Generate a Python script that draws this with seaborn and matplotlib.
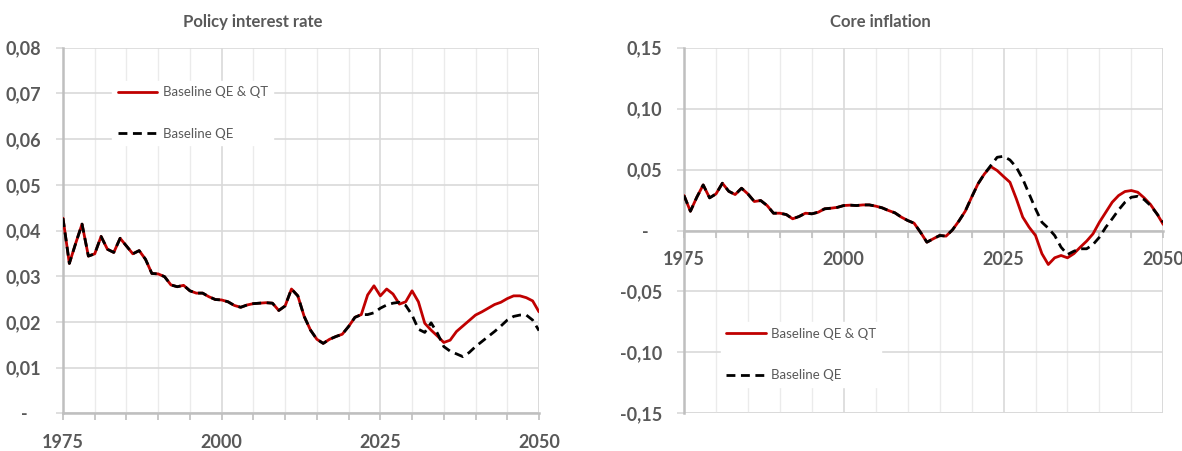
import numpy as np
import pandas as pd
import matplotlib
matplotlib.use("Agg")
import matplotlib.pyplot as plt
from matplotlib.ticker import FuncFormatter, MultipleLocator
import seaborn as sns

# ---- data -------------------------------------------------------------
years = list(range(1975, 2051))

rate_qe_qt = [
    0.0427, 0.0328, 0.0372, 0.0414, 0.0344, 0.0349, 0.0387, 0.0359, 0.0352, 0.0383,
    0.0366, 0.0349, 0.0356, 0.0337, 0.0306, 0.0305, 0.0299, 0.0281, 0.0277, 0.0280,
    0.0268, 0.0263, 0.0263, 0.0255, 0.0249, 0.0248, 0.0244, 0.0236, 0.0232, 0.0237,
    0.0240, 0.0241, 0.0242, 0.0241, 0.0225, 0.0235, 0.0272, 0.0257, 0.0212, 0.0182,
    0.0162, 0.0153, 0.0162, 0.0168, 0.0173, 0.0190, 0.0210, 0.0216,
    0.0259, 0.0279, 0.0257, 0.0272, 0.0261, 0.0239, 0.0244, 0.0268, 0.0244, 0.0197,
    0.0182, 0.0169, 0.0155, 0.0160, 0.0179, 0.0191, 0.0203, 0.0215, 0.0222, 0.0230,
    0.0238, 0.0243, 0.0251, 0.0257, 0.0257, 0.0253, 0.0246, 0.0222,
]
rate_qe = [
    0.0427, 0.0328, 0.0372, 0.0414, 0.0344, 0.0349, 0.0387, 0.0359, 0.0352, 0.0383,
    0.0366, 0.0349, 0.0356, 0.0337, 0.0306, 0.0305, 0.0299, 0.0281, 0.0277, 0.0280,
    0.0268, 0.0263, 0.0263, 0.0255, 0.0249, 0.0248, 0.0244, 0.0236, 0.0232, 0.0237,
    0.0240, 0.0241, 0.0242, 0.0241, 0.0225, 0.0235, 0.0272, 0.0257, 0.0212, 0.0182,
    0.0162, 0.0153, 0.0162, 0.0168, 0.0173, 0.0190, 0.0210, 0.0216,
    0.0216, 0.0220, 0.0230, 0.0237, 0.0241, 0.0243, 0.0236, 0.0215, 0.0184, 0.0177,
    0.0198, 0.0175, 0.0146, 0.0136, 0.0130, 0.0124, 0.0133, 0.0146, 0.0157, 0.0168,
    0.0179, 0.0191, 0.0204, 0.0212, 0.0215, 0.0215, 0.0204, 0.0181,
]
infl_qe_qt = [
    0.0287, 0.0158, 0.0273, 0.0374, 0.0268, 0.0300, 0.0388, 0.0322, 0.0295, 0.0347,
    0.0300, 0.0238, 0.0246, 0.0205, 0.0142, 0.0142, 0.0131, 0.0096, 0.0115, 0.0142,
    0.0137, 0.0150, 0.0178, 0.0183, 0.0190, 0.0205, 0.0208, 0.0205, 0.0210, 0.0210,
    0.0200, 0.0186, 0.0164, 0.0145, 0.0110, 0.0082, 0.0060, -0.0014, -0.0096, -0.0068,
    -0.0041, -0.0046, 0.0005, 0.0077, 0.0158, 0.0273, 0.0383, 0.0464,
    0.0525, 0.0492, 0.0443, 0.0396, 0.0260, 0.0110, 0.0027, -0.0041, -0.0190, -0.0279,
    -0.0224, -0.0205, -0.0224, -0.0190, -0.0137, -0.0087, -0.0027, 0.0068, 0.0150, 0.0232,
    0.0287, 0.0320, 0.0328, 0.0314, 0.0268, 0.0213, 0.0137, 0.0049,
]
infl_qe = [
    0.0287, 0.0158, 0.0273, 0.0374, 0.0268, 0.0300, 0.0388, 0.0322, 0.0295, 0.0347,
    0.0300, 0.0238, 0.0246, 0.0205, 0.0142, 0.0142, 0.0131, 0.0096, 0.0115, 0.0142,
    0.0137, 0.0150, 0.0178, 0.0183, 0.0190, 0.0205, 0.0208, 0.0205, 0.0210, 0.0210,
    0.0200, 0.0186, 0.0164, 0.0145, 0.0110, 0.0082, 0.0060, -0.0014, -0.0096, -0.0068,
    -0.0041, -0.0046, 0.0005, 0.0077, 0.0158, 0.0273, 0.0383, 0.0464,
    0.0533, 0.0601, 0.0609, 0.0579, 0.0519, 0.0423, 0.0300, 0.0178, 0.0068, 0.0019,
    -0.0041, -0.0137, -0.0197, -0.0170, -0.0150, -0.0150, -0.0115, -0.0055, 0.0027, 0.0096,
    0.0169, 0.0232, 0.0273, 0.0281, 0.0254, 0.0205, 0.0137, 0.0068,
]

series_labels = ["Baseline QE & QT", "Baseline QE"]
titles = ["Policy interest rate", "Core inflation"]
x_ticks = [1975, 2000, 2025, 2050]

# ---- style ------------------------------------------------------------
sns.set_theme(style="white")
plt.rcParams["font.family"] = ["Lato", "DejaVu Sans"]

TXT = "#595959"
GRID = "#d9d9d9"
GRID_MINOR = "#ebebeb"
AXIS = "#bfbfbf"
RED = "#c00000"

fig = plt.figure(figsize=(11.82, 4.51), dpi=100)
ax_l = fig.add_axes([0.0533, 0.0836, 0.4027, 0.8106])
ax_r = fig.add_axes([0.5787, 0.0836, 0.4055, 0.8106])


def fmt(v, _pos):
    if abs(v) < 1e-9:
        return "-   "
    return f"{v:.2f}".replace(".", ",")


def draw(ax, qe_qt, qe):
    df = pd.DataFrame({"year": years, "qe_qt": qe_qt, "qe": qe})
    sns.lineplot(data=df, x="year", y="qe_qt", ax=ax, color=RED, lw=2.0,
                 label=series_labels[0], zorder=3)
    sns.lineplot(data=df, x="year", y="qe", ax=ax, color="black", lw=2.0,
                 linestyle=(0, (3.2, 2.0)), label=series_labels[1], zorder=4)
    ax.set_xlim(1975, 2050)
    ax.set_xlabel("")
    ax.set_ylabel("")
    ax.xaxis.set_major_locator(MultipleLocator(25))
    ax.xaxis.set_minor_locator(MultipleLocator(5))
    ax.yaxis.set_major_formatter(FuncFormatter(fmt))
    ax.grid(which="major", axis="y", color=GRID, lw=1.2, zorder=0)
    ax.grid(which="major", axis="x", color=GRID, lw=1.2, zorder=0)
    ax.grid(which="minor", axis="x", color=GRID_MINOR, lw=1.0, zorder=0)
    ax.set_axisbelow(True)
    for s in ["top", "right"]:
        ax.spines[s].set_visible(False)
    ax.spines["left"].set_color(AXIS)
    ax.spines["left"].set_linewidth(1.8)
    ax.spines["bottom"].set_color(AXIS)
    ax.spines["bottom"].set_linewidth(1.8)
    ax.tick_params(axis="y", which="major", left=True, length=5, width=1.2,
                   color=GRID, pad=11, labelsize=13, labelcolor=TXT)
    ax.tick_params(axis="x", which="both", bottom=True, direction="out",
                   length=5, width=1.2, color=AXIS)
    ax.tick_params(axis="x", which="major", pad=10, labelsize=13, labelcolor=TXT)


# left: policy rate
draw(ax_l, rate_qe_qt, rate_qe)
ax_l.set_ylim(0, 0.08)
ax_l.yaxis.set_major_locator(MultipleLocator(0.01))
ax_l.set_xticks(x_ticks)

# right: core inflation, x axis crossing at zero
draw(ax_r, infl_qe_qt, infl_qe)
ax_r.set_ylim(-0.15, 0.15)
ax_r.yaxis.set_major_locator(MultipleLocator(0.05))
ax_r.set_xticks(x_ticks)
ax_r.spines["bottom"].set_position(("data", 0))
ax_r.axhline(-0.15, color=GRID, lw=1.2, zorder=0)

for ax in (ax_l, ax_r):
    ax.axvline(2050, color=GRID, lw=1.2, zorder=0)
    for lab in ax.get_yticklabels() + ax.get_xticklabels():
        lab.set_fontweight("bold")

# legends
leg_kw = dict(frameon=True, fancybox=False, framealpha=1.0, edgecolor="white",
              facecolor="white", fontsize=9.5, handlelength=3.0,
              labelspacing=2.25, handletextpad=0.4, borderpad=0.4, loc="upper left")
leg_l = ax_l.legend(bbox_to_anchor=(0.090, 0.927), **leg_kw)
leg_r = ax_r.legend(bbox_to_anchor=(0.063, 0.267), **leg_kw)
for leg in (leg_l, leg_r):
    for t in leg.get_texts():
        t.set_color(TXT)

# titles
fig.text(0.214, 0.951, titles[0], ha="center", va="center",
         fontsize=12, fontweight="bold", color=TXT)
fig.text(0.745, 0.951, titles[1], ha="center", va="center",
         fontsize=12, fontweight="bold", color=TXT)

fig.savefig("out.png", dpi=100, facecolor="white")
